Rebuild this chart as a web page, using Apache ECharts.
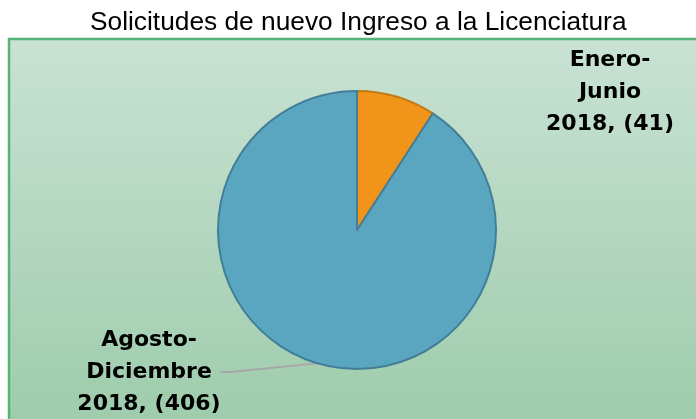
<!DOCTYPE html>
<html>
<head>
<meta charset="utf-8">
<script src="https://cdn.jsdelivr.net/npm/echarts@6/dist/echarts.min.js"></script>
<style>
	html, body { margin: 0; padding: 0; background: #fff; }
	#chart { width: 696px; height: 419px; }
</style>
</head>
<body>
<div id="chart"></div>
<script>
// data
var chartTitle = 'Solicitudes de nuevo Ingreso a la Licenciatura';
var categories = ['Enero-\nJunio\n2018', 'Agosto-\nDiciembre\n2018'];
var values = [41, 406];
var sliceColors = ['#f0951a', '#5aa5c0'];
var sliceBorders = ['#c47a12', '#427f97'];

var chart = echarts.init(document.getElementById('chart'), null, { renderer: 'canvas' });

var pieData = categories.map(function(name, i) {
	return {
		name: name,
		value: values[i],
		itemStyle: { color: sliceColors[i], borderColor: sliceBorders[i] },
		labelLine: { show: i == 1 },
	};
});

var option = {
	animation: false,
	title: {
		text: chartTitle,
		left: 85,
		top: 5,
		textStyle: {
			fontFamily: 'Liberation Sans',
			fontWeight: 'normal',
			fontSize: 26.3,
			color: '#000',
		},
	},
	graphic: [
		{
			type: 'rect',
			z: -10,
			shape: { x: 9, y: 39, width: 700, height: 400 },
			style: {
				fill: {
					type: 'linear', x: 0, y: 0, x2: 0, y2: 1,
					colorStops: [
						{ offset: 0, color: '#c9e2d4' },
						{ offset: 1, color: '#9ccbaa' },
					],
				},
				stroke: '#55b476',
				lineWidth: 2.5,
			},
		},
	],
	series: [
		{
			type: 'pie',
			center: [357, 230],
			radius: 139,
			startAngle: 90,
			clockwise: true,
			itemStyle: { borderWidth: 2 },
			label: {
				show: true,
				position: 'outside',
				formatter: function(p) {
					return p.name + ', (' + p.value + ')';
				},
				fontFamily: 'DejaVu Sans',
				fontWeight: 'bold',
				fontSize: 22,
				lineHeight: 32,
				color: '#000',
				align: 'center',
			},
			labelLine: {
				show: true,
				length: 10,
				length2: 10,
				lineStyle: { color: '#a8a8a8', width: 2 },
			},
			labelLayout: function(params) {
				if (params.dataIndex == 0) {
					return { x: 610, y: 92, align: 'center', verticalAlign: 'middle' };
				}
				return { x: 149, y: 372, align: 'center', verticalAlign: 'middle' };
			},
			data: pieData,
		},
	],
};

chart.setOption(option);
</script>
</body>
</html>
